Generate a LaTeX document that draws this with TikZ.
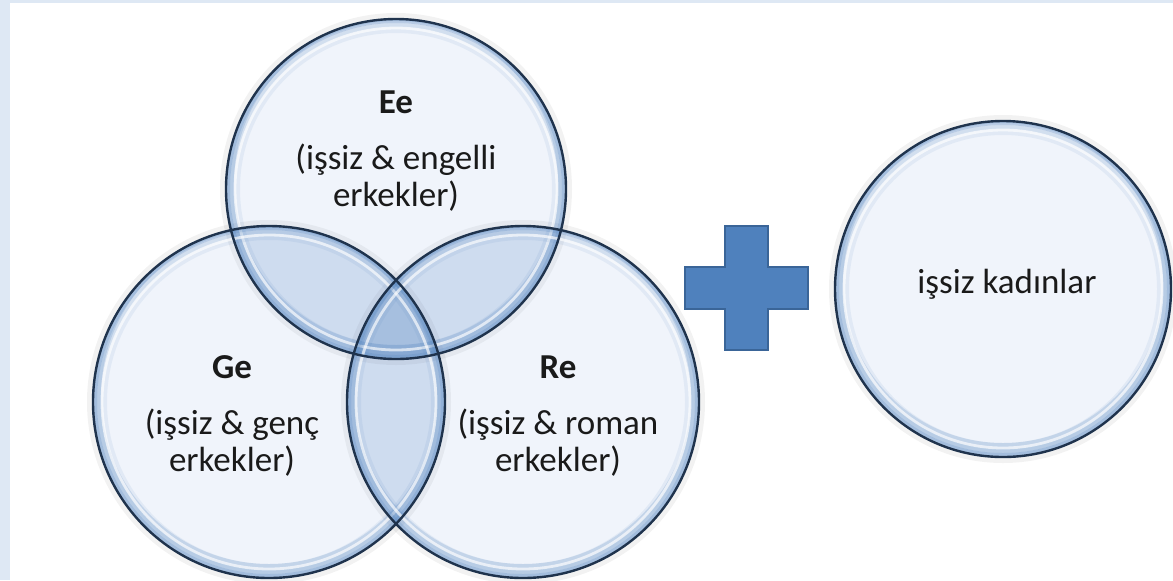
\documentclass[tikz,border=0pt]{standalone}
\usepackage{fontspec}
\setmainfont{Carlito}
\definecolor{framecol}{HTML}{DEE8F4}
\definecolor{bub}{HTML}{4F81BD}
\definecolor{basecol}{HTML}{2F6FD0}
\definecolor{rimcol}{HTML}{1F334D}
\definecolor{plusfill}{HTML}{4F81BD}
\definecolor{plusedge}{HTML}{3A6598}
\definecolor{txt}{HTML}{1A1A1A}
\tikzset{
  ttl/.style={font=\fontsize{17.5pt}{18.5pt}\selectfont\bfseries, text=txt, anchor=base, inner sep=0pt},
  body/.style={font=\fontsize{17.5pt}{18.5pt}\selectfont, text=txt, anchor=base, inner sep=0pt},
  glow/.style={draw=black, draw opacity=0.05, line width=3pt},
  basefill/.style={fill=basecol, fill opacity=0.07},
  lensfill/.style={fill=bub, fill opacity=0.13},
  crescent/.style={fill=bub, fill opacity=0.20, even odd rule},
  rimband/.style={draw=bub, draw opacity=#1},
  shine/.style={draw=white, draw opacity=0.65, line width=1.4pt},
  outline/.style={draw=rimcol, line width=1.2pt},
  plusshape/.style={fill=plusfill, draw=plusedge, line width=0.7pt, line join=miter}
}
\begin{document}
\begin{tikzpicture}[x=0.5pt,y=-0.5pt]
\useasboundingbox (0,0) rectangle (1173,580);
\fill[framecol] (0,0) rectangle (1173,580);
\fill[white] (10,3) rectangle (1173,580);

\coordinate (E) at (396,189);
\coordinate (G) at (269,402);
\coordinate (R) at (523,402);
\coordinate (K) at (1003,289);

% soft halo
\foreach \c/\r in {E/170,G/176,R/176,K/168}
  \draw[glow] (\c) circle[radius=\r+3];
% translucent body
\foreach \c/\r in {E/170,G/176,R/176,K/168}
  \path[basefill] (\c) circle[radius=\r];
% darker overlaps
\foreach \a/\ra/\b/\rb in {E/170/G/176, E/170/R/176, G/176/R/176}{
  \begin{scope}
    \clip (\a) circle[radius=\ra];
    \path[lensfill] (\b) circle[radius=\rb];
  \end{scope}
}
% rim shading
\foreach \c/\r in {E/170,G/176,R/176,K/168}{
  \path[crescent] (\c) circle[radius=\r] ([yshift=3pt]\c) circle[radius=\r-8];
  \draw[rimband=0.34, line width=2pt] (\c) circle[radius=\r-2];
  \draw[rimband=0.18, line width=2pt] (\c) circle[radius=\r-6];
  \draw[rimband=0.09, line width=3pt] (\c) circle[radius=\r-11];
  \draw[shine] (\c) circle[radius=\r-9];
}
% outlines
\foreach \c/\r in {E/170,G/176,R/176,K/168}
  \draw[outline] (\c) circle[radius=\r];

% plus sign
\path[plusshape] (725,226) -- (768,226) -- (768,267) -- (808,267) -- (808,309)
  -- (768,309) -- (768,350) -- (725,350) -- (725,309) -- (685,309) -- (685,267)
  -- (725,267) -- cycle;

% texts
\node[ttl]  (eT) at (396,113) {Ee};
\node[body] (e1) at (396,169) {(işsiz \& engelli};
\node[body] (e2) at (396,206) {erkekler)};
\node[ttl]  (gT) at (232,378) {Ge};
\node[body] (g1) at (232,434) {(işsiz \& genç};
\node[body] (g2) at (232,471) {erkekler)};
\node[ttl]  (rT) at (558,378) {Re};
\node[body] (r1) at (558,434) {(işsiz \& roman};
\node[body] (r2) at (558,471) {erkekler)};
\node[body] (k1) at (1007,293) {işsiz kadınlar};
\end{tikzpicture}
\end{document}
